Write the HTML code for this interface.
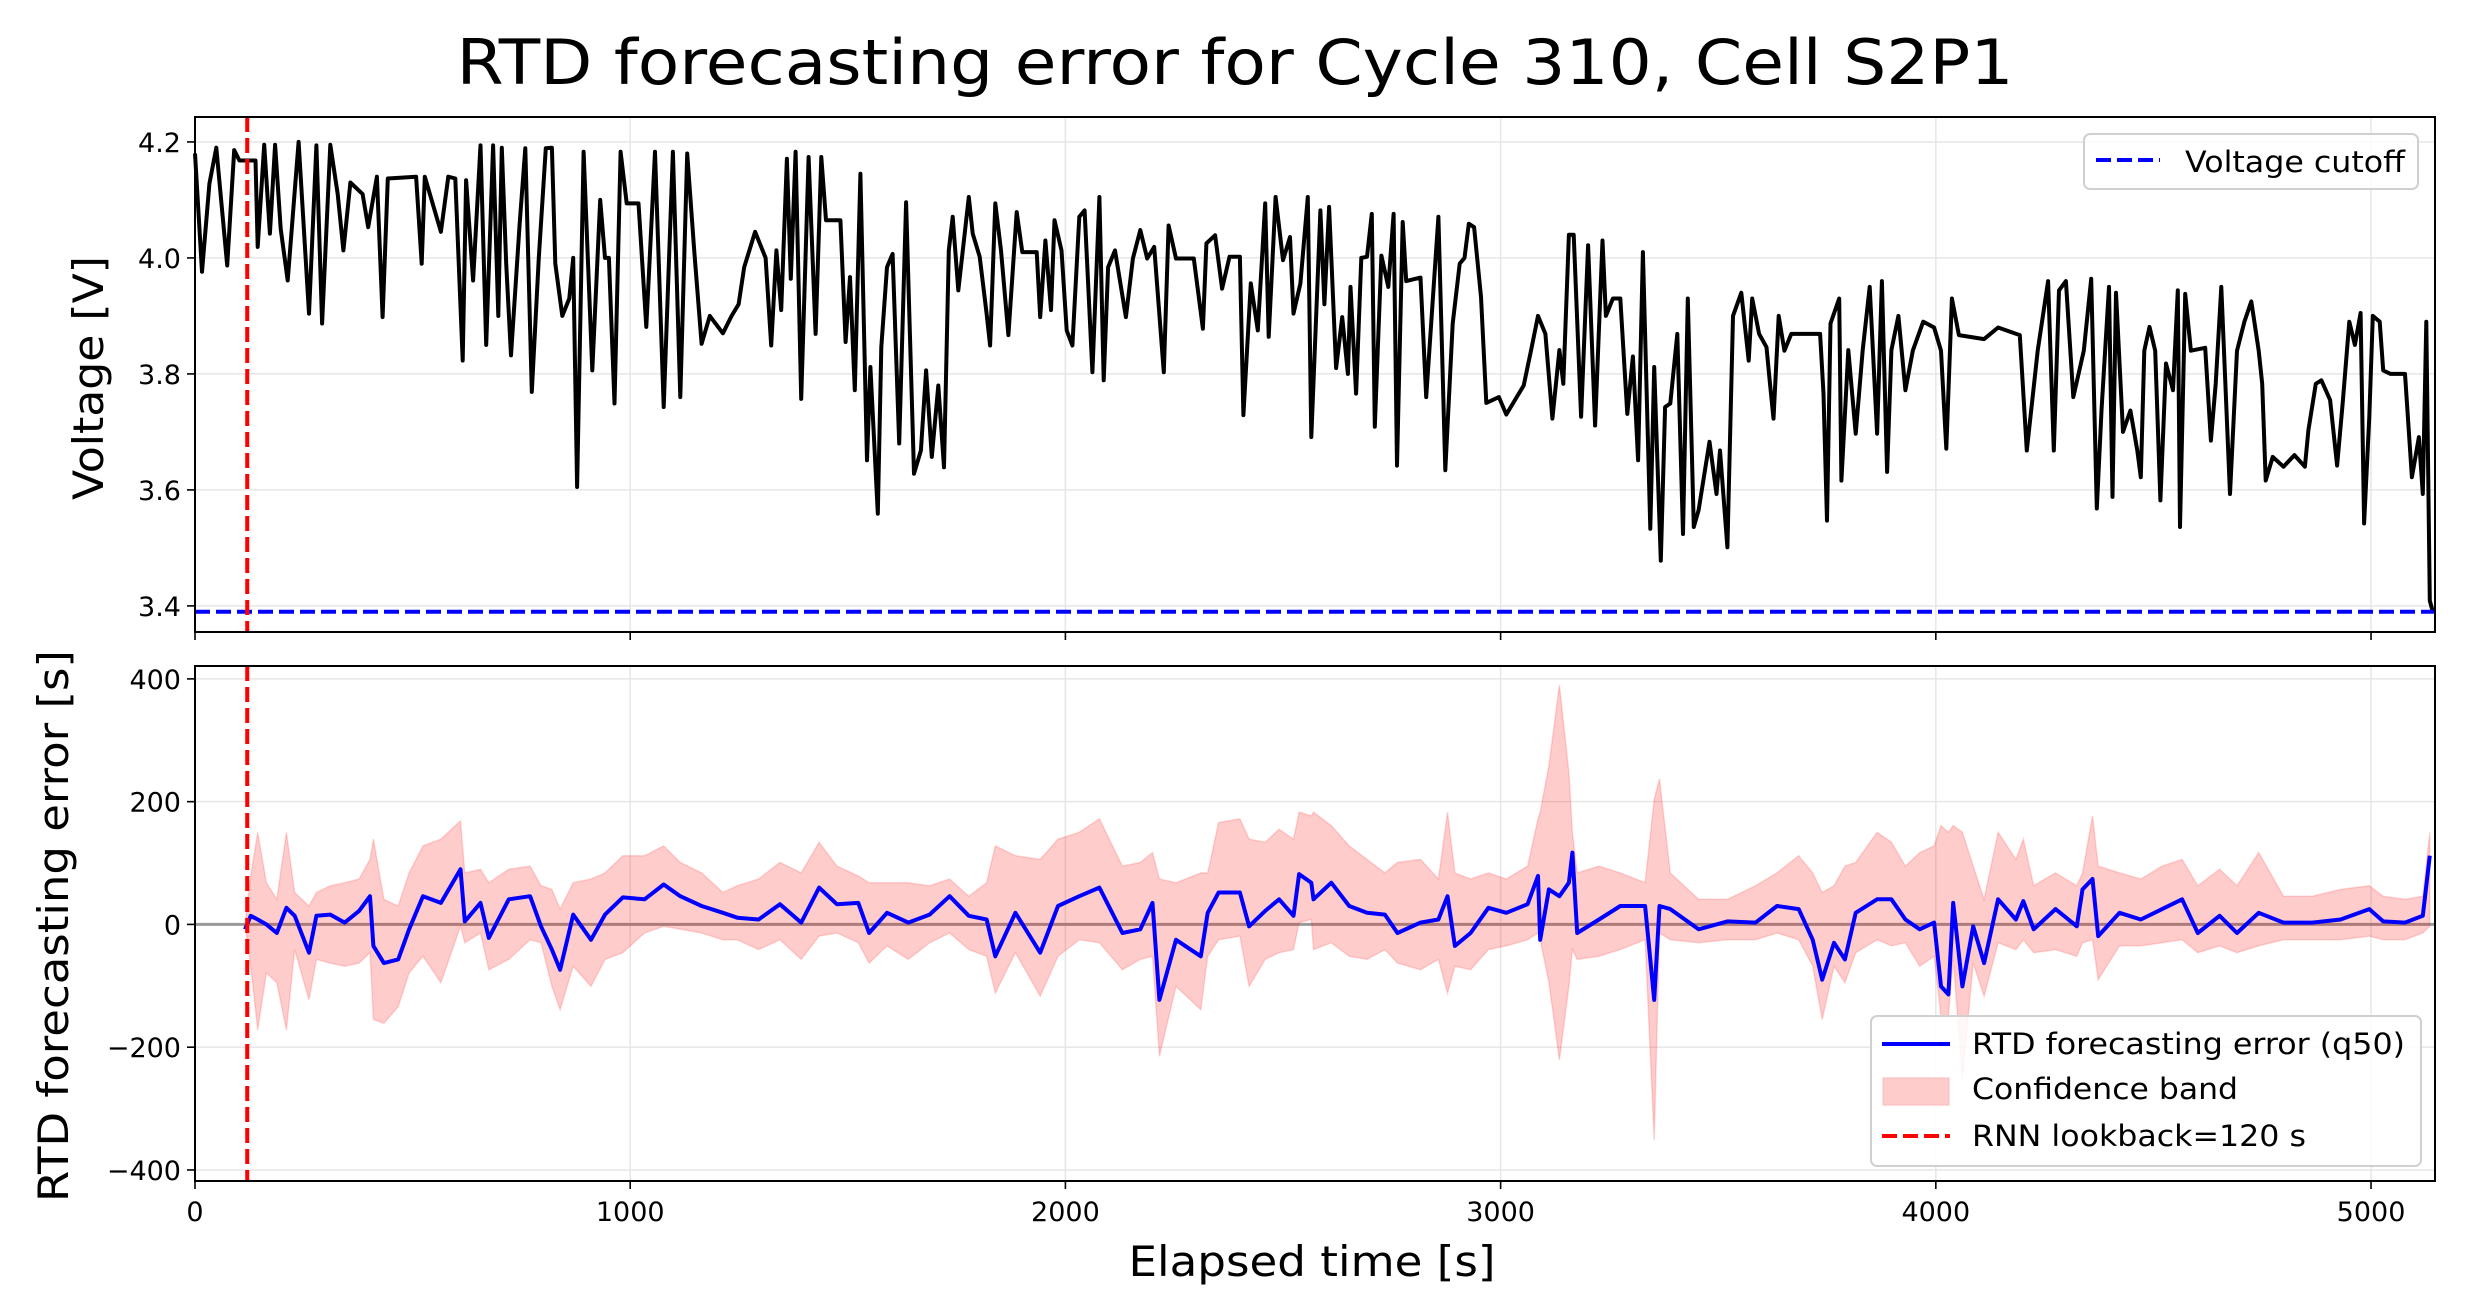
<!DOCTYPE html>
<html><head><meta charset="utf-8"><style>
html,body{margin:0;padding:0;background:#fff}
svg{display:block}
text{font-family:"DejaVu Sans","Liberation Sans",sans-serif;fill:#000}
</style></head><body>
<svg id="fig" width="2470" height="1306" viewBox="0 0 2470 1306" xmlns="http://www.w3.org/2000/svg">
<rect width="2470" height="1306" fill="#fff"/>
<text x="1235" y="84" font-size="62" text-anchor="middle" textLength="1557" lengthAdjust="spacingAndGlyphs">RTD forecasting error for Cycle 310, Cell S2P1</text>
<g id="gtop"></g>
<g id="gbot"></g>
<text transform="translate(103,378) rotate(-90)" font-size="42" text-anchor="middle" textLength="244" lengthAdjust="spacingAndGlyphs">Voltage [V]</text>
<text transform="translate(68,926) rotate(-90)" font-size="42" text-anchor="middle" textLength="552" lengthAdjust="spacingAndGlyphs">RTD forecasting error [s]</text>
<text x="1312" y="1276" font-size="42" text-anchor="middle" textLength="367" lengthAdjust="spacingAndGlyphs">Elapsed time [s]</text>
</svg>
<script>
// ---- data ----
const vTimes=[0,16,33,49,74,90,102,139,144,159,172,184,197,213,238,262,279,292,311,328,341,357,385,398,418,431,443,508,521,528,565,582,598,615,623,639,656,669,685,697,705,715,726,746,759,774,790,806,820,828,844,860,869,878,893,913,931,942,951,964,978,992,1019,1037,1057,1077,1098,1115,1131,1147,1164,1183,1213,1233,1249,1262,1287,1311,1324,1336,1347,1360,1369,1380,1393,1410,1426,1439,1450,1483,1495,1505,1516,1529,1544,1552,1569,1577,1590,1603,1618,1634,1642,1652,1668,1680,1693,1708,1721,1732,1741,1754,1778,1787,1803,1819,1827,1839,1852,1869,1888,1901,1934,1942,1954,1967,1975,1991,2003,2016,2032,2044,2062,2078,2088,2098,2114,2139,2155,2172,2188,2204,2226,2237,2254,2295,2316,2324,2344,2360,2377,2401,2409,2426,2442,2459,2467,2483,2500,2516,2524,2540,2557,2565,2586,2595,2606,2622,2636,2649,2655,2668,2680,2693,2704,2711,2726,2742,2754,2762,2775,2783,2816,2829,2857,2873,2890,2906,2917,2927,2939,2955,2967,2996,3013,3037,3053,3070,3086,3103,3119,3135,3144,3157,3168,3185,3201,3217,3234,3242,3258,3275,3291,3304,3316,3327,3344,3353,3368,3378,3390,3406,3419,3430,3444,3455,3480,3496,3504,3521,3534,3553,3570,3578,3594,3611,3619,3627,3639,3652,3668,3685,3734,3742,3750,3758,3778,3783,3799,3816,3832,3848,3865,3876,3888,3898,3914,3930,3947,3971,3996,4012,4024,4037,4053,4111,4143,4193,4209,4234,4258,4271,4283,4299,4316,4340,4357,4370,4381,4398,4406,4414,4430,4447,4463,4471,4479,4491,4504,4516,4529,4545,4556,4561,4573,4586,4619,4632,4643,4656,4676,4692,4709,4725,4742,4750,4758,4774,4799,4824,4848,4856,4873,4886,4906,4922,4935,4950,4963,4976,4984,4996,5004,5020,5028,5045,5078,5094,5110,5119,5127,5135,5142];
const voltage=[4.18,3.976,4.128,4.19,3.987,4.186,4.168,4.168,4.019,4.195,4.042,4.195,4.05,3.961,4.2,3.904,4.194,3.887,4.195,4.11,4.013,4.13,4.11,4.053,4.14,3.898,4.137,4.14,3.99,4.14,4.045,4.14,4.137,3.823,4.134,3.961,4.194,3.85,4.194,3.9,4.19,3.99,3.832,4.06,4.189,3.769,4.0,4.189,4.19,3.99,3.9,3.93,4.0,3.605,4.183,3.806,4.1,4.0,4.0,3.749,4.183,4.094,4.094,3.881,4.183,3.743,4.183,3.76,4.18,4.013,3.852,3.9,3.87,3.9,3.92,3.984,4.045,4.0,3.849,4.013,3.91,4.171,3.964,4.183,3.757,4.174,3.869,4.174,4.065,4.065,3.855,3.967,3.772,4.145,3.651,3.812,3.559,3.846,3.984,4.007,3.68,4.096,3.887,3.628,3.668,3.806,3.657,3.78,3.639,4.013,4.071,3.944,4.105,4.042,4.002,3.904,3.849,4.094,4.013,3.867,4.079,4.01,4.01,3.898,4.03,3.91,4.065,4.013,3.875,3.849,4.071,4.082,3.803,4.105,3.789,3.984,4.013,3.898,3.999,4.048,3.999,4.019,3.803,4.056,3.999,3.999,3.878,4.025,4.039,3.947,4.002,4.002,3.729,3.956,3.875,4.094,3.864,4.105,3.996,4.036,3.904,3.956,4.105,3.691,4.082,3.92,4.088,3.81,3.898,3.8,3.95,3.766,4.0,4.002,4.076,3.709,4.004,3.95,4.076,3.642,4.062,3.96,3.966,3.76,4.071,3.634,3.887,3.99,4.0,4.059,4.053,3.933,3.75,3.76,3.73,3.76,3.78,3.841,3.9,3.869,3.723,3.841,3.783,4.04,4.04,3.726,4.022,3.711,4.03,3.9,3.93,3.93,3.731,3.83,3.651,4.01,3.533,3.812,3.478,3.743,3.749,3.869,3.524,3.93,3.536,3.565,3.683,3.593,3.668,3.501,3.9,3.94,3.823,3.93,3.869,3.846,3.783,3.723,3.9,3.84,3.869,3.869,3.869,3.766,3.547,3.887,3.93,3.616,3.841,3.697,3.841,3.95,3.697,3.96,3.631,3.841,3.9,3.772,3.84,3.89,3.88,3.84,3.671,3.93,3.867,3.86,3.88,3.867,3.668,3.84,3.96,3.668,3.944,3.96,3.76,3.84,3.964,3.568,3.74,3.95,3.588,3.94,3.7,3.737,3.668,3.622,3.84,3.881,3.84,3.582,3.818,3.772,3.944,3.536,3.938,3.84,3.845,3.685,3.783,3.95,3.593,3.84,3.89,3.925,3.84,3.783,3.616,3.657,3.64,3.66,3.64,3.703,3.783,3.789,3.755,3.642,3.75,3.89,3.85,3.905,3.542,3.726,3.9,3.89,3.806,3.8,3.8,3.622,3.691,3.593,3.89,3.409,3.39];
const eTimes=[115,128,144,164,188,210,229,262,279,311,344,377,402,410,434,467,492,524,565,610,620,656,675,721,770,795,820,839,869,910,942,983,1033,1077,1115,1164,1213,1246,1295,1344,1393,1434,1475,1524,1549,1590,1639,1688,1734,1778,1819,1839,1885,1942,1983,2032,2078,2131,2172,2200,2216,2254,2311,2327,2352,2401,2422,2459,2491,2524,2537,2565,2570,2611,2652,2693,2734,2763,2816,2857,2878,2895,2931,2972,3013,3062,3086,3091,3111,3135,3157,3165,3176,3226,3275,3332,3353,3365,3390,3455,3521,3586,3635,3685,3717,3739,3766,3791,3816,3865,3898,3930,3963,3996,4012,4029,4040,4061,4086,4111,4143,4184,4201,4225,4275,4324,4337,4360,4373,4422,4471,4520,4566,4602,4652,4692,4742,4799,4865,4930,4996,5028,5078,5119,5135];
const q50=[-8,14,8,0,-14,27,14,-46,14,16,3,22,46,-35,-63,-57,-8,46,35,90,5,35,-22,41,46,-3,-41,-74,16,-25,16,44,41,65,46,30,19,11,8,33,3,60,33,35,-14,19,3,16,46,14,8,-52,19,-46,30,46,60,-14,-8,35,-123,-25,-52,19,52,52,-3,22,41,14,82,68,41,68,30,19,16,-14,3,8,46,-35,-14,27,19,33,79,-25,57,46,68,117,-14,8,30,30,-123,30,25,-8,5,3,30,25,-25,-90,-30,-57,19,41,41,8,-8,3,-101,-114,35,-101,-3,-63,41,8,38,-8,25,-3,57,74,-19,19,8,25,41,-14,14,-14,19,3,3,8,25,5,3,14,112];
const bandUpper=[0,79,150,68,41,150,52,30,52,63,68,74,106,139,41,30,84,128,139,169,84,90,68,90,95,63,57,25,68,74,84,112,112,128,101,84,52,63,74,101,84,134,95,79,68,68,68,63,74,46,68,128,112,106,139,150,172,95,101,117,74,68,84,84,166,172,139,134,155,139,183,177,183,161,128,106,84,101,106,74,183,84,74,84,74,95,172,183,259,390,248,150,84,95,84,68,204,237,84,41,41,63,84,112,84,52,63,95,101,150,134,95,117,128,161,150,161,150,95,41,150,106,139,63,84,63,84,177,95,84,74,95,106,63,90,63,117,46,46,57,63,46,41,46,150];
const bandLower=[0,-68,-172,-79,-95,-172,-41,-123,-57,-63,-68,-63,-46,-155,-161,-134,-79,-52,-95,-3,-30,-14,-74,-57,-25,-30,-101,-139,-68,-101,-57,-46,-14,-3,-8,-14,-25,-25,-41,-25,-57,-19,-14,-30,-63,-35,-57,-30,-14,-41,-52,-112,-46,-117,-52,-25,-30,-74,-57,-52,-215,-101,-139,-52,-25,-19,-101,-57,-46,-41,3,8,-41,-30,-52,-57,-41,-63,-74,-57,-112,-68,-74,-41,-35,-25,-14,-25,-95,-221,-101,-41,-57,-52,-41,-25,-352,-14,-25,-30,-25,-25,-14,-25,-68,-155,-68,-95,-46,-25,-35,-30,-68,-52,-150,-150,-57,-253,-63,-117,-30,-41,-25,-46,-41,-52,-30,-25,-90,-35,-35,-30,-25,-46,-35,-46,-35,-25,-25,-25,-19,-25,-25,-14,-3];
const xTicks=[0,1000,2000,3000,4000,5000];
const vTicks=[3.4,3.6,3.8,4.0,4.2];
const vTickLabels=["3.4","3.6","3.8","4.0","4.2"];
const eTicks=[-400,-200,0,200,400];
const eTickLabels=["\u2212400","\u2212200","0","200","400"];
const voltageCutoff=3.39;
const lookback=120;

// ---- scales ----
const L=195,R=2435;
const X=t=>L+(t-0)/(5147-0)*(R-L);
const T0=117,T1=632; const YV=v=>T0+(4.243-v)/(4.243-3.355)*(T1-T0);
const B0=666,B1=1181; const YE=e=>B0+(421-e)/(421+418)*(B1-B0);
const NS='http://www.w3.org/2000/svg';
function mk(tag,attrs,parent){const el=document.createElementNS(NS,tag);for(const k in attrs)el.setAttribute(k,attrs[k]);parent.appendChild(el);return el;}
const gTop=document.getElementById('gtop'), gBot=document.getElementById('gbot');

function frame(g,y0,y1,yt,ylab,ys,showX){
  xTicks.forEach(t=>{const l=mk('line',{x1:X(t),x2:X(t),y1:y0,y2:y1,stroke:'#e6e6e6','stroke-width':1.5},g);
    
    });
  yt.forEach((v,i)=>{const l=mk('line',{x1:L,x2:R,y1:ys(v),y2:ys(v),stroke:'#e6e6e6','stroke-width':1.5},g);
    
    
    const tk=mk('line',{x1:L-8,x2:L,y1:ys(v),y2:ys(v),stroke:'#000','stroke-width':1.6},g);
    
    
    const tx=mk('text',{x:L-14,y:ys(v)+10,'font-size':27,'text-anchor':'end'},g);tx.textContent=ylab[i];
    
    });
  xTicks.forEach(t=>{const tk=mk('line',{x1:X(t),x2:X(t),y1:y1,y2:y1+8,stroke:'#000','stroke-width':1.6},g);
    
    
    if(showX){const tx=mk('text',{x:X(t),y:y1+40,'font-size':27,'text-anchor':'middle'},g);tx.textContent=String(t);
      
      }});
}
frame(gTop,T0,T1,vTicks,vTickLabels,YV,false);
frame(gBot,B0,B1,eTicks,eTickLabels,YE,true);

// top panel series
const nv=Math.min(vTimes.length,voltage.length);
let d='';for(let i=0;i<nv;i++){d+=(i?'L':'M')+X(vTimes[i]).toFixed(1)+' '+YV(voltage[i]).toFixed(1);}
const vl=mk('path',{d:d,fill:'none',stroke:'#000','stroke-width':4,'stroke-linejoin':'round'},gTop);


const cut=mk('line',{x1:L,x2:R,y1:YV(voltageCutoff),y2:YV(voltageCutoff),stroke:'#0000ff','stroke-width':4,'stroke-dasharray':'15 6'},gTop);


const lb1=mk('line',{x1:X(lookback),x2:X(lookback),y1:T0,y2:T1,stroke:'#ff0000','stroke-width':4,'stroke-dasharray':'15 6'},gTop);


const f1=mk('rect',{x:L,y:T0,width:R-L,height:T1-T0,fill:'none',stroke:'#000','stroke-width':2},gTop);



// bottom panel
const ne=Math.min(eTimes.length,q50.length,bandUpper.length,bandLower.length);
const z=mk('line',{x1:L,x2:R,y1:YE(0),y2:YE(0),stroke:'#9a9a9a','stroke-width':3},gBot);


let bd='';for(let i=0;i<ne;i++){bd+=(i?'L':'M')+X(eTimes[i]).toFixed(1)+' '+YE(bandUpper[i]).toFixed(1);}
for(let i=ne-1;i>=0;i--){bd+='L'+X(eTimes[i]).toFixed(1)+' '+YE(bandLower[i]).toFixed(1);}
bd+='Z';
const band=mk('path',{d:bd,fill:'#ff0000','fill-opacity':0.2,stroke:'#ff0000','stroke-opacity':0.15,'stroke-width':1.5},gBot);


let qd='';for(let i=0;i<ne;i++){qd+=(i?'L':'M')+X(eTimes[i]).toFixed(1)+' '+YE(q50[i]).toFixed(1);}
const ql=mk('path',{d:qd,fill:'none',stroke:'#0000ff','stroke-width':4,'stroke-linejoin':'round'},gBot);


const lb2=mk('line',{x1:X(lookback),x2:X(lookback),y1:B0,y2:B1,stroke:'#ff0000','stroke-width':4,'stroke-dasharray':'15 6'},gBot);


const f2=mk('rect',{x:L,y:B0,width:R-L,height:B1-B0,fill:'none',stroke:'#000','stroke-width':2},gBot);


</script>
<svg style="position:absolute;left:0;top:0" width="2470" height="1306" xmlns="http://www.w3.org/2000/svg">
<g>
<rect x="2084" y="134" width="334" height="55" rx="6" fill="#fff" fill-opacity="0.85" stroke="#d0d0d0" stroke-width="2"/>
<line x1="2096" x2="2160" y1="160" y2="160" stroke="#0000ff" stroke-width="4" stroke-dasharray="15 6"/>
<text x="2185" y="172" font-size="29" textLength="220" lengthAdjust="spacingAndGlyphs">Voltage cutoff</text>
</g>
<g>
<rect x="1871" y="1016" width="550" height="150" rx="6" fill="#fff" fill-opacity="0.85" stroke="#d0d0d0" stroke-width="2"/>
<line x1="1882" x2="1950" y1="1044" y2="1044" stroke="#0000ff" stroke-width="4"/>
<text x="1972" y="1054" font-size="29" textLength="433" lengthAdjust="spacingAndGlyphs">RTD forecasting error (q50)</text>
<rect x="1883" y="1078" width="66" height="27" fill="#ffcccc" stroke="#ffb8b8"/>
<text x="1972" y="1099" font-size="29" textLength="266" lengthAdjust="spacingAndGlyphs">Confidence band</text>
<line x1="1882" x2="1950" y1="1136" y2="1136" stroke="#ff0000" stroke-width="4" stroke-dasharray="15 6"/>
<text x="1972" y="1146" font-size="29" textLength="334" lengthAdjust="spacingAndGlyphs">RNN lookback=120 s</text>
</g>
</svg>
</body></html>
